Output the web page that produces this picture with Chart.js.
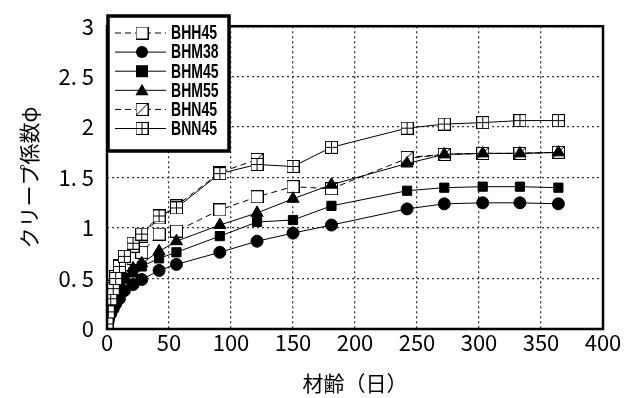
<!DOCTYPE html>
<html><head><meta charset="utf-8">
<script src="https://cdn.jsdelivr.net/npm/chart.js@4.4.1/dist/chart.umd.min.js"></script>
<style>html,body{margin:0;padding:0;background:#fff;}#wrap{width:638px;height:398px;}</style>
</head><body><div id="wrap"><canvas id="c" width="638" height="398"></canvas></div>
<script>
const ages = [0,1,3,5,7,10,14,21,28,42,56,91,121,150,181,242,272,303,333,364];
const BHH45 = [0.04,0.15,0.27,0.36,0.45,0.55,0.64,0.70,0.76,0.94,0.97,1.18,1.31,1.41,1.39,1.69,1.73,1.74,1.74,1.75];
const BHM38 = [0.02,0.08,0.15,0.20,0.25,0.30,0.38,0.44,0.49,0.58,0.64,0.76,0.87,0.95,1.03,1.19,1.24,1.25,1.25,1.24];
const BHM45 = [0.03,0.11,0.20,0.28,0.35,0.42,0.50,0.56,0.62,0.70,0.76,0.92,1.06,1.08,1.22,1.37,1.40,1.41,1.41,1.40];
const BHM55 = [0.03,0.12,0.22,0.30,0.38,0.45,0.52,0.60,0.65,0.77,0.87,1.03,1.15,1.29,1.43,1.64,1.73,1.74,1.74,1.75];
const BHN45 = [0.05,0.18,0.32,0.42,0.52,0.63,0.72,0.82,0.92,1.10,1.22,1.55,1.68,null,null,1.70,1.73,1.74,1.74,1.75];
const BNN45 = [0.05,0.17,0.30,0.40,0.50,0.62,0.72,0.85,0.94,1.12,1.20,1.54,1.63,1.61,1.80,1.99,2.03,2.045,2.065,2.065];
const seriesNames = ['BHH45','BHM38','BHM45','BHM55','BHN45','BNN45'];
const yTickLabels = ['0','0. 5','1','1. 5','2','2. 5','3'];
const xTickLabels = ['0','50','100','150','200','250','300','350','400'];
const yTitle = 'クリープ係数φ';
const xTitle = '材齢（日）';

function mk(size, draw){
  const c = document.createElement('canvas');
  c.width = size; c.height = size;
  const g = c.getContext('2d');
  draw(g, size);
  return c;
}
const S = 13;
const openSq = mk(S,(g,s)=>{g.fillStyle='#fff';g.fillRect(0.5,0.5,s-1,s-1);g.strokeStyle='#000';g.lineWidth=1;g.strokeRect(0.5,0.5,s-1,s-1);});
const diagSq = mk(S,(g,s)=>{g.fillStyle='#fff';g.fillRect(0.5,0.5,s-1,s-1);g.strokeStyle='#000';g.lineWidth=1;g.strokeRect(0.5,0.5,s-1,s-1);g.beginPath();g.moveTo(0.5,s-0.5);g.lineTo(s-0.5,0.5);g.stroke();});
const crossSq = mk(S,(g,s)=>{g.fillStyle='#fff';g.fillRect(0.5,0.5,s-1,s-1);g.strokeStyle='#000';g.lineWidth=1;g.strokeRect(0.5,0.5,s-1,s-1);g.beginPath();g.moveTo(s/2,0);g.lineTo(s/2,s);g.moveTo(0,s/2);g.lineTo(s,s/2);g.stroke();});

function pts(arr){ return ages.map((a,i)=>({x:a,y:arr[i]})); }
const common = {borderColor:'#000',borderWidth:1,pointBackgroundColor:'#000',pointBorderColor:'#000',fill:false,tension:0,spanGaps:false};
const datasets = [
  Object.assign({},common,{label:seriesNames[0],data:pts(BHH45),borderDash:[6,4],pointStyle:openSq,order:6}),
  Object.assign({},common,{label:seriesNames[1],data:pts(BHM38),pointStyle:'circle',pointRadius:6,order:4}),
  Object.assign({},common,{label:seriesNames[2],data:pts(BHM45),pointStyle:'rect',pointRadius:6.5,order:3}),
  Object.assign({},common,{label:seriesNames[3],data:pts(BHM55),pointStyle:'triangle',pointRadius:7,order:2}),
  Object.assign({},common,{label:seriesNames[4],data:pts(BHN45),borderDash:[6,4],pointStyle:diagSq,order:5}),
  Object.assign({},common,{label:seriesNames[5],data:pts(BNN45),pointStyle:crossSq,order:1})
];
const legendIcons = [openSq,'circle','rect','triangle',diagSq,crossSq];

const framePlugin = {
  id:'frame',
  afterDatasetsDraw(chart){
    const a = chart.chartArea, g = chart.ctx;
    g.save(); g.strokeStyle='#000'; g.lineWidth=2.5;
    g.strokeRect(a.left,a.top,a.right-a.left,a.bottom-a.top);
    // legend box
    const lx=108, ly=16, lw=121, lh=135;
    g.fillStyle='#fff'; g.fillRect(lx,ly,lw,lh);
    g.lineWidth=3.5; g.strokeRect(lx,ly,lw,lh);
    chart.data.datasets.forEach((ds,i)=>{
      const y = ly+17+i*19.1;
      g.strokeStyle='#000'; g.lineWidth=1;
      g.setLineDash(ds.borderDash||[]);
      g.beginPath(); g.moveTo(lx+7,y); g.lineTo(lx+58,y); g.stroke();
      g.setLineDash([]);
      const ic = legendIcons[i], cx = lx+34;
      g.fillStyle='#000';
      if (ic==='circle'){ g.beginPath(); g.arc(cx,y,6,0,Math.PI*2); g.fill(); }
      else if (ic==='rect'){ g.fillRect(cx-6,y-6,12,12); }
      else if (ic==='triangle'){ g.beginPath(); g.moveTo(cx,y-6.5); g.lineTo(cx+6.5,y+5); g.lineTo(cx-6.5,y+5); g.closePath(); g.fill(); }
      else { g.drawImage(ic,cx-6.5,y-6.5); }
      g.save();
      g.translate(lx+63,y+1); g.scale(0.72,1);
      g.fillStyle='#000'; g.font='bold 19.5px "Liberation Sans",Arial,sans-serif';
      g.textBaseline='middle'; g.textAlign='left';
      g.fillText(ds.label,0,0);
      g.restore();
    });
    g.restore();
  }
};

const tickFont = {family:'"Noto Sans CJK JP"',size:22};
new Chart(document.getElementById('c'),{
  type:'line',
  data:{datasets},
  options:{
    animation:false,responsive:false,maintainAspectRatio:false,
    layout:{padding:{left:16,right:35,top:16,bottom:0}},
    plugins:{legend:{display:false},tooltip:{enabled:false}},
    scales:{
      x:{type:'linear',min:0,max:400,
        ticks:{stepSize:50,color:'#000',font:tickFont,padding:0,maxRotation:0,callback:(v)=>xTickLabels[Math.round(v/50)]},
        grid:{color:'#333',lineWidth:1.3,drawTicks:false,tickLength:0},
        border:{display:false,dash:[2,3]},
        title:{display:true,text:xTitle,color:'#000',font:{family:'"Noto Sans CJK JP"',size:21},padding:{top:0,bottom:2}},
        afterFit(s){s.height=69;}
      },
      y:{min:0,max:3,
        ticks:{stepSize:0.5,color:'#000',font:tickFont,padding:13,callback:(v)=>yTickLabels[Math.round(v*2)]},
        grid:{color:'#333',lineWidth:1.3,drawTicks:false,tickLength:0},
        border:{display:false,dash:[2,3]},
        title:{display:true,text:yTitle,color:'#000',font:{family:'"Noto Sans CJK JP"',size:21},padding:{top:0,bottom:0}},
        afterFit(s){s.width=91;}
      }
    }
  },
  plugins:[framePlugin]
});
</script></body></html>
